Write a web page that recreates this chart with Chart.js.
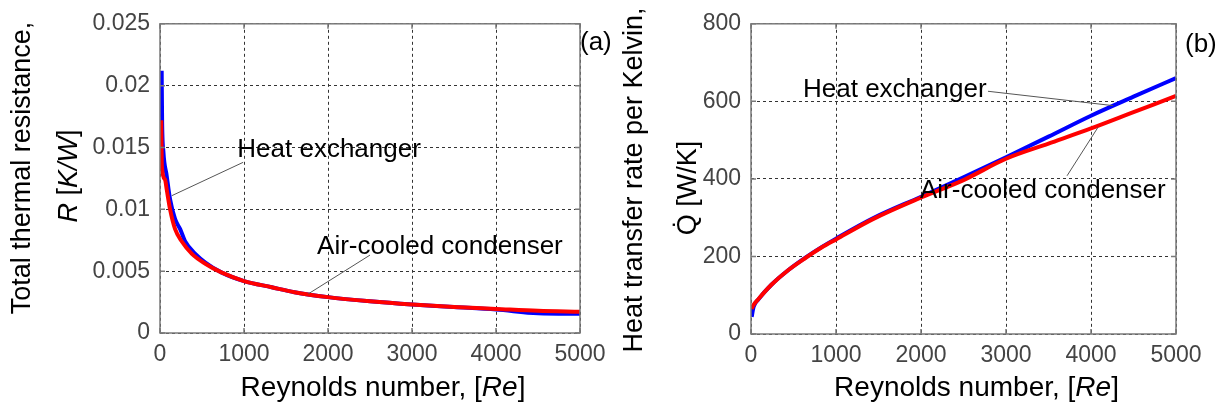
<!DOCTYPE html>
<html>
<head>
<meta charset="utf-8">
<script src="https://cdn.jsdelivr.net/npm/chart.js@4.4.1/dist/chart.umd.min.js"></script>
<style>
  html, body { margin: 0; padding: 0; background: #fff; }
  #wrap { position: relative; width: 1232px; height: 412px; }
  canvas { position: absolute; top: 0; }
</style>
</head>
<body>
<div id="wrap">
  <canvas id="chartA" width="616" height="412" style="left:0"></canvas>
  <canvas id="chartB" width="616" height="412" style="left:616px"></canvas>
</div>
<script>
// ---- data (a): total thermal resistance vs Reynolds number ----
const reHeatExA = [20, 25, 40, 80, 120, 180, 240, 300, 420, 540, 730, 1000, 1330, 1600, 2000, 2500, 3000, 3500, 4000, 4500, 5000];
const rHeatEx = [0.0212, 0.0172, 0.0147, 0.0127, 0.0108, 0.0092, 0.0084, 0.0074, 0.0064, 0.0057, 0.0049, 0.0042, 0.0037, 0.0033, 0.0029, 0.00256, 0.0023, 0.0021, 0.0019, 0.0016, 0.00155];
const reCondenserA = [15, 22, 60, 80, 120, 180, 260, 380, 540, 730, 1000, 1330, 1600, 2000, 2500, 3000, 3500, 4000, 4500, 5000];
const rCondenser = [0.0172, 0.0135, 0.0124, 0.0116, 0.0100, 0.0084, 0.0074, 0.0064, 0.0056, 0.0049, 0.0042, 0.0037, 0.0033, 0.0029, 0.00256, 0.0023, 0.0021, 0.00195, 0.0018, 0.00172];

// ---- data (b): heat transfer rate per Kelvin vs Reynolds number ----
const reB = [8, 30, 90, 240, 440, 640, 830, 1000, 1440, 2000, 2500, 3000, 3500, 4000, 4500, 5000];
const qHeatEx = [44, 70, 90, 127, 165, 197, 224, 246, 299, 354, 404, 456, 509, 563, 612, 660];
const qCondenser = [65, 75, 91, 127, 165, 196, 223, 244, 297, 352, 397, 452, 491, 530, 572, 614];

// ---- ticks ----
const xTicks = [0, 1000, 2000, 3000, 4000, 5000];
const xTickLabels = ["0", "1000", "2000", "3000", "4000", "5000"];
const yTicksA = [0, 0.005, 0.01, 0.015, 0.02, 0.025];
const yTickLabelsA = ["0", "0.005", "0.01", "0.015", "0.02", "0.025"];
const yTicksB = [0, 200, 400, 600, 800];
const yTickLabelsB = ["0", "200", "400", "600", "800"];

const FONT = '"Liberation Sans", Arial, sans-serif';
const toPts = (xs, ys) => xs.map((x, i) => ({ x, y: ys[i] }));

function drawRuns(ctx, runs, cx, cy, size, rotate) {
  ctx.save();
  ctx.translate(cx, cy);
  if (rotate) ctx.rotate(-Math.PI / 2);
  ctx.textBaseline = "middle";
  ctx.textAlign = "left";
  ctx.fillStyle = "#000";
  const fonts = runs.map(r => (r[1] ? "italic " : "") + size + "px " + FONT);
  let w = 0;
  runs.forEach((r, i) => { ctx.font = fonts[i]; w += ctx.measureText(r[0]).width; });
  let x0 = -w / 2;
  runs.forEach((r, i) => {
    ctx.font = fonts[i];
    ctx.fillText(r[0], x0, 0);
    x0 += ctx.measureText(r[0]).width;
  });
  ctx.restore();
}

// frame, inner ticks, annotations and axis titles
const decor = {
  id: "decor",
  afterDatasetsDraw(chart, args, o) {
    const { ctx, chartArea: a, scales: { x, y } } = chart;
    ctx.save();
    ctx.strokeStyle = "#7a7a7a";
    ctx.lineWidth = 1.5;
    ctx.strokeRect(a.left, a.top, a.right - a.left, a.bottom - a.top);
    ctx.beginPath();
    o.yTicks.forEach(v => {
      const py = y.getPixelForValue(v);
      ctx.moveTo(a.left, py); ctx.lineTo(a.left + 5, py);
      ctx.moveTo(a.right, py); ctx.lineTo(a.right - 5, py);
    });
    xTicks.forEach(v => {
      const px = x.getPixelForValue(v);
      ctx.moveTo(px, a.bottom); ctx.lineTo(px, a.bottom - 5);
      ctx.moveTo(px, a.top); ctx.lineTo(px, a.top + 5);
    });
    ctx.stroke();

    // annotation leaders
    ctx.strokeStyle = "#555";
    ctx.lineWidth = 1;
    o.notes.forEach(n => {
      ctx.beginPath();
      ctx.moveTo(x.getPixelForValue(n.from[0]), y.getPixelForValue(n.from[1]));
      ctx.lineTo(x.getPixelForValue(n.to[0]), y.getPixelForValue(n.to[1]));
      ctx.stroke();
    });
    ctx.font = "26px " + FONT;
    ctx.fillStyle = "#000";
    ctx.textBaseline = "middle";
    ctx.textAlign = "left";
    o.notes.forEach(n => {
      ctx.fillText(n.text, x.getPixelForValue(n.at[0]), y.getPixelForValue(n.at[1]));
    });
    ctx.fillText(o.tag, a.right + o.tagDx, o.tagY);
    ctx.restore();
  },
  afterDraw(chart, args, o) {
    const { ctx, chartArea: a } = chart;
    drawRuns(ctx, [["Reynolds number, [", false], ["Re", true], ["]", false]], (a.left + a.right) / 2 + 13, 388, 28, false);
    drawRuns(ctx, o.yTitle1, o.yTitleX1, o.yTitleY, 27, true);
    drawRuns(ctx, o.yTitle2, o.yTitleX2, o.yTitleY + 8, 27, true);
  }
};

function makeChart(id, cfg) {
  return new Chart(document.getElementById(id), {
    type: "line",
    data: {
      datasets: [
        { label: "Heat exchanger", data: toPts(cfg.x1, cfg.s1), borderColor: "#0000ff", borderWidth: 4, pointRadius: 0, cubicInterpolationMode: "monotone", order: 2 },
        { label: "Air-cooled condenser", data: toPts(cfg.x2, cfg.s2), borderColor: "#ff0000", borderWidth: 4, pointRadius: 0, cubicInterpolationMode: "monotone", order: 1 }
      ]
    },
    options: {
      responsive: false,
      animation: false,
      layout: { padding: { top: cfg.padTop, right: cfg.padRight, left: 0, bottom: 0 } },
      plugins: {
        legend: { display: false },
        tooltip: { enabled: false },
        decor: cfg.decor
      },
      scales: {
        x: {
          type: "linear", min: 0, max: 5000,
          afterBuildTicks: s => { s.ticks = xTicks.map(v => ({ value: v })); },
          afterFit: s => { s.height = cfg.xHeight; },
          ticks: { color: "#444", font: { family: FONT, size: 23 }, padding: 8, maxRotation: 0,
                   callback: (v, i) => xTickLabels[i] },
          grid: { color: "#333", lineWidth: 1, drawTicks: false },
          border: { display: false, dash: [3, 3] }
        },
        y: {
          type: "linear", min: cfg.yTicks[0], max: cfg.yTicks[cfg.yTicks.length - 1],
          afterBuildTicks: s => { s.ticks = cfg.yTicks.map(v => ({ value: v })); },
          afterFit: s => { s.width = cfg.yWidth; },
          ticks: { color: "#444", font: { family: FONT, size: 23 }, padding: 10,
                   callback: (v, i) => cfg.yLabels[i] },
          grid: { color: "#333", lineWidth: 1, drawTicks: false },
          border: { display: false, dash: [3, 3] }
        }
      }
    },
    plugins: [decor]
  });
}

makeChart("chartA", {
  x1: reHeatExA, s1: rHeatEx, x2: reCondenserA, s2: rCondenser,
  yTicks: yTicksA, yLabels: yTickLabelsA,
  padTop: 17, padRight: 36, yWidth: 160, xHeight: 79,
  decor: {
    yTicks: yTicksA,
    tag: "(a)", tagDx: 0, tagY: 43,
    notes: [
      { text: "Heat exchanger", at: [920, 0.0148], from: [140, 0.0111], to: [990, 0.0138] },
      { text: "Air-cooled condenser", at: [1870, 0.0070], from: [1765, 0.00316], to: [2500, 0.0063] }
    ],
    yTitle1: [["Total thermal resistance,", false]],
    yTitle2: [["R", true], [" [", false], ["K/W", true], ["]", false]],
    yTitleX1: 23, yTitleX2: 69, yTitleY: 168
  }
});

makeChart("chartB", {
  x1: reB, s1: qHeatEx, x2: reB, s2: qCondenser,
  yTicks: yTicksB, yLabels: yTickLabelsB,
  padTop: 16, padRight: 56, yWidth: 135, xHeight: 78,
  decor: {
    yTicks: yTicksB,
    tag: "(b)", tagDx: 9, tagY: 45,
    notes: [
      { text: "Heat exchanger", at: [612, 631], from: [2788, 626], to: [4259, 589] },
      { text: "Air-cooled condenser", at: [1988, 370], from: [3718, 408], to: [4082, 533] }
    ],
    yTitle1: [["Heat transfer rate per Kelvin,", false]],
    yTitle2: [["Q\u0307 [W/K]", false]],
    yTitleX1: 19, yTitleX2: 73, yTitleY: 180
  }
});
</script>
</body>
</html>
